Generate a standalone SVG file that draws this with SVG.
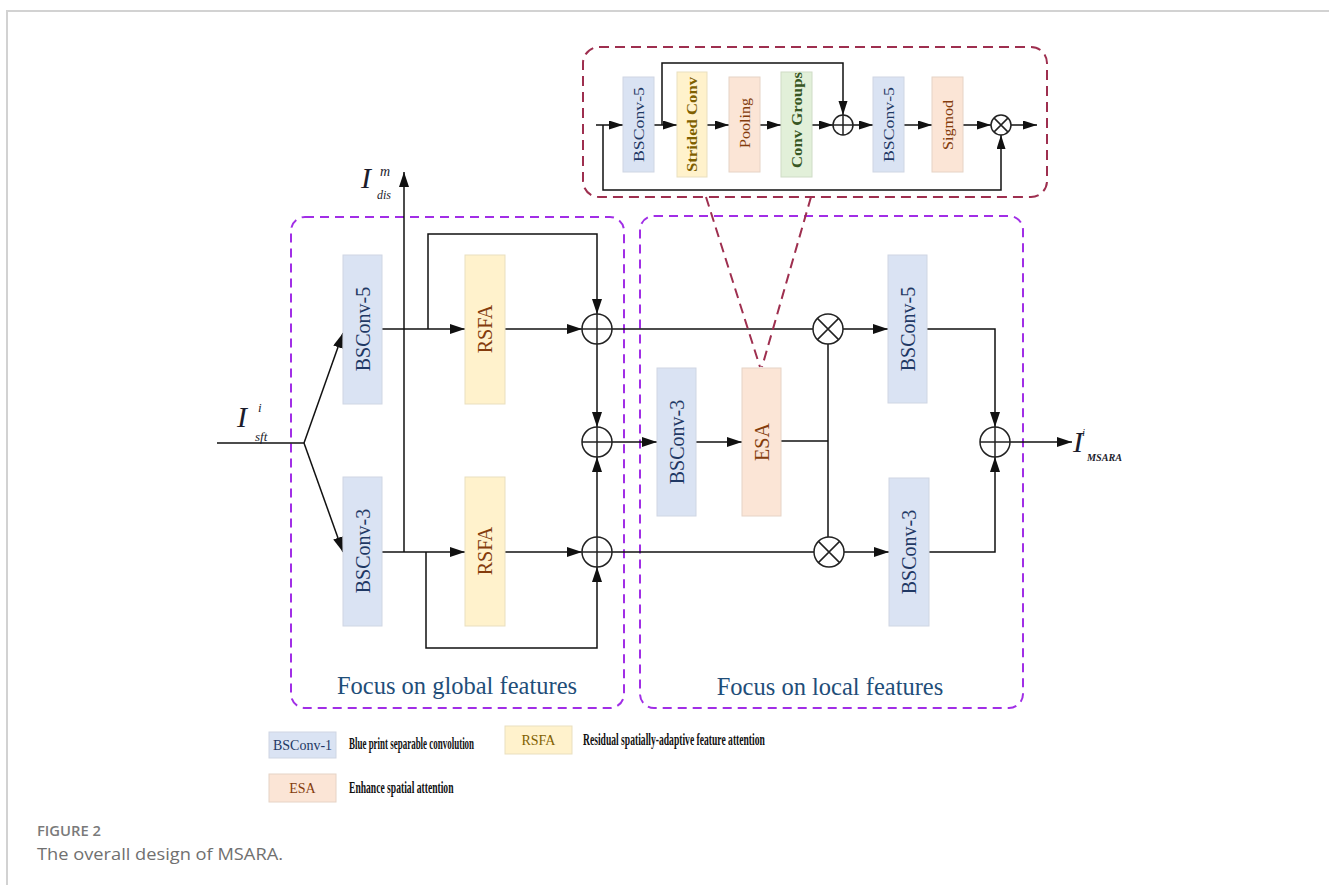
<svg xmlns="http://www.w3.org/2000/svg" width="1329" height="885" viewBox="0 0 1329 885">
<defs>
<marker id="arr" markerUnits="userSpaceOnUse" markerWidth="15" markerHeight="11" refX="15" refY="5" orient="auto">
<path d="M0,0 L15,5 L0,10 z" fill="#111"/>
</marker>
<marker id="arrs" markerUnits="userSpaceOnUse" markerWidth="14" markerHeight="10" refX="14" refY="4.5" orient="auto">
<path d="M0,0 L14,4.5 L0,9 z" fill="#111"/>
</marker>
</defs>
<style>
.ln{fill:none;stroke:#111;stroke-width:1.5}
.a{marker-end:url(#arr)}
.as{marker-end:url(#arrs)}
.blue{fill:#dae3f3;stroke:#cfd6e3;stroke-width:1}
.yel{fill:#fff2cc;stroke:#e9dfbf;stroke-width:1}
.pch{fill:#fbe5d6;stroke:#e6d3c6;stroke-width:1}
.grn{fill:#e2f0d9;stroke:#cfdcc6;stroke-width:1}
.t{font-family:"Liberation Serif","Times New Roman",serif;font-size:20px;text-anchor:middle}
.ts{font-family:"Liberation Serif","Times New Roman",serif;font-size:15px;text-anchor:middle}
.nv{fill:#1f3864}
.br{fill:#843c0c}
.gd{fill:#7f6000}
.gr{fill:#375623}
.circ{fill:#fff;stroke:#222;stroke-width:1.5}
.cx{stroke:#222;stroke-width:1.5}
.pur{fill:none;stroke:#a12ee6;stroke-width:2;stroke-dasharray:9 6}
.mar{fill:none;stroke:#9e2f4f;stroke-width:2;stroke-dasharray:10 6}
.lab{font-family:"Liberation Serif","Times New Roman",serif;font-style:italic;fill:#1c1c2c}
.foc{font-family:"Liberation Serif","Times New Roman",serif;font-size:24.5px;fill:#1f4e79;text-anchor:middle}
.leg{font-family:"Liberation Serif","Times New Roman",serif;font-size:16px;font-weight:bold;fill:#111}
.legt{font-family:"Liberation Serif","Times New Roman",serif;font-size:14px;text-anchor:middle}
</style>
<rect width="1329" height="885" fill="#fff"/>
<path d="M7,885 V11 H1329" fill="none" stroke="#d2d2d2" stroke-width="2"/>

<!-- group frames -->
<g id="global-group">
<rect class="pur" x="291" y="217" width="333" height="491" rx="14"/>
<text class="foc" x="457" y="694">Focus on global features</text>
</g>
<g id="local-group">
<rect class="pur" x="640" y="216" width="383" height="492" rx="14"/>
<text class="foc" x="830" y="695">Focus on local features</text>
</g>
<g id="esa-detail">
<rect class="mar" x="583" y="47" width="464" height="150" rx="16"/>
</g>

<!-- connectors -->
<g id="connectors">
<!-- inset -->
<path class="ln as" d="M596,125 H623"/>
<path class="ln as" d="M654,125 H677"/>
<path class="ln as" d="M662,125 V63 H843 V115"/>
<path class="ln as" d="M707,125 H729"/>
<path class="ln as" d="M760,125 H781"/>
<path class="ln as" d="M812,125 H833"/>
<path class="ln as" d="M853,125 H873"/>
<path class="ln as" d="M904,125 H932"/>
<path class="ln as" d="M963,125 H991"/>
<path class="ln as" d="M1011,125 H1037"/>
<path class="ln as" d="M603,125 V190 H1001 V135"/>
<!-- main -->
<path class="ln" d="M217,443 H304"/>
<path class="ln a" d="M304,443 L343,333"/>
<path class="ln a" d="M304,443 L343,552"/>
<path class="ln a" d="M404,552 V172"/>
<path class="ln a" d="M382,329 H465"/>
<path class="ln a" d="M428,329 V234 H597 V314"/>
<path class="ln a" d="M505,329 H582"/>
<path class="ln" d="M612,329 H813"/>
<path class="ln a" d="M597,344 V427"/>
<path class="ln a" d="M612,442 H657"/>
<path class="ln a" d="M382,552 H465"/>
<path class="ln a" d="M426,552 V648 H597 V567"/>
<path class="ln a" d="M505,552 H582"/>
<path class="ln a" d="M597,537 V457"/>
<path class="ln" d="M612,552 H814"/>
<path class="ln a" d="M696,442 H742"/>
<path class="ln" d="M781,441 H828"/>
<path class="ln" d="M828,344 V537"/>
<path class="ln a" d="M843,329 H888"/>
<path class="ln a" d="M844,552 H889"/>
<path class="ln a" d="M927,329 H995 V427"/>
<path class="ln a" d="M929,552 H995 V457"/>
<path class="ln a" d="M1010,442 H1072"/>
<path class="mar" d="M706,197 L760,367"/>
<path class="mar" d="M811,197 L762,367"/>
</g>

<!-- inset nodes -->
<g id="esa-bsconv5-a">
<rect class="blue" x="623" y="77" width="31" height="95"/>
<text class="ts nv" transform="translate(639,124.5) rotate(-90)" dy="5" textLength="75" lengthAdjust="spacingAndGlyphs">BSConv-5</text>
</g>
<g id="esa-strided">
<rect class="yel" x="677" y="72" width="30" height="105"/>
<text class="ts gd" font-weight="bold" transform="translate(692,124.5) rotate(-90)" dy="5" textLength="95" lengthAdjust="spacingAndGlyphs">Strided Conv</text>
</g>
<g id="esa-pooling">
<rect class="pch" x="729" y="77" width="31" height="95"/>
<text class="ts br" transform="translate(745,123) rotate(-90)" dy="5" textLength="50" lengthAdjust="spacingAndGlyphs">Pooling</text>
</g>
<g id="esa-convgroups">
<rect class="grn" x="781" y="72" width="31" height="105"/>
<text class="ts gr" font-weight="bold" transform="translate(797,120) rotate(-90)" dy="5" textLength="96" lengthAdjust="spacingAndGlyphs">Conv Groups</text>
</g>
<g id="esa-add">
<circle class="circ" cx="843" cy="125" r="10"/>
<path class="cx" d="M833,125 H853 M843,115 V135"/>
</g>
<g id="esa-bsconv5-b">
<rect class="blue" x="873" y="77" width="31" height="95"/>
<text class="ts nv" transform="translate(889,124.5) rotate(-90)" dy="5" textLength="75" lengthAdjust="spacingAndGlyphs">BSConv-5</text>
</g>
<g id="esa-sigmod">
<rect class="pch" x="932" y="77" width="31" height="95"/>
<text class="ts br" transform="translate(948,125) rotate(-90)" dy="5" textLength="50" lengthAdjust="spacingAndGlyphs">Sigmod</text>
</g>
<g id="esa-mul">
<circle class="circ" cx="1001" cy="125" r="10"/>
<path class="cx" d="M993.9,117.9 L1008.1,132.1 M1008.1,117.9 L993.9,132.1"/>
</g>

<!-- main nodes -->
<g id="bsconv5-g">
<rect class="blue" x="343" y="255" width="39" height="149"/>
<text class="t nv" transform="translate(362.5,329) rotate(-90)" dy="7">BSConv-5</text>
</g>
<g id="bsconv3-g">
<rect class="blue" x="343" y="477" width="39" height="149"/>
<text class="t nv" transform="translate(362.5,551) rotate(-90)" dy="7">BSConv-3</text>
</g>
<g id="rsfa-1">
<rect class="yel" x="465" y="255" width="40" height="149"/>
<text class="t br" transform="translate(485,329) rotate(-90)" dy="7">RSFA</text>
</g>
<g id="rsfa-2">
<rect class="yel" x="465" y="477" width="40" height="149"/>
<text class="t br" transform="translate(485,551) rotate(-90)" dy="7">RSFA</text>
</g>
<g id="add-1">
<circle class="circ" cx="597" cy="329" r="15"/>
<path class="cx" d="M582,329 H612 M597,314 V344"/>
</g>
<g id="add-2">
<circle class="circ" cx="597" cy="442" r="15"/>
<path class="cx" d="M582,442 H612 M597,427 V457"/>
</g>
<g id="add-3">
<circle class="circ" cx="597" cy="552" r="15"/>
<path class="cx" d="M582,552 H612 M597,537 V567"/>
</g>
<g id="bsconv3-mid">
<rect class="blue" x="657" y="368" width="39" height="148"/>
<text class="t nv" transform="translate(676.5,442) rotate(-90)" dy="7">BSConv-3</text>
</g>
<g id="esa">
<rect class="pch" x="742" y="368" width="39" height="148"/>
<text class="t br" transform="translate(761.5,442) rotate(-90)" dy="7">ESA</text>
</g>
<g id="mul-1">
<circle class="circ" cx="828" cy="329" r="15"/>
<path class="cx" d="M817.4,318.4 L838.6,339.6 M838.6,318.4 L817.4,339.6"/>
</g>
<g id="mul-2">
<circle class="circ" cx="829" cy="552" r="15"/>
<path class="cx" d="M818.4,541.4 L839.6,562.6 M839.6,541.4 L818.4,562.6"/>
</g>
<g id="bsconv5-l">
<rect class="blue" x="888" y="255" width="39" height="148"/>
<text class="t nv" transform="translate(907.5,329) rotate(-90)" dy="7">BSConv-5</text>
</g>
<g id="bsconv3-l">
<rect class="blue" x="889" y="478" width="40" height="148"/>
<text class="t nv" transform="translate(909,552) rotate(-90)" dy="7">BSConv-3</text>
</g>
<g id="add-4">
<circle class="circ" cx="995" cy="442" r="15"/>
<path class="cx" d="M980,442 H1010 M995,427 V457"/>
</g>

<!-- labels -->
<g id="label-input">
<text class="lab" x="237" y="427" font-size="30">I</text>
<text class="lab" x="258" y="412" font-size="13">i</text>
<text class="lab" x="255" y="441" font-size="13">sft</text>
</g>
<g id="label-dis">
<text class="lab" x="361" y="188" font-size="30">I</text>
<text class="lab" x="380" y="176" font-size="14">m</text>
<text class="lab" x="377" y="199" font-size="12">dis</text>
</g>
<g id="label-output">
<text class="lab" x="1073" y="452" font-size="30">I</text>
<text class="lab" x="1082" y="436" font-size="11">i</text>
<text class="lab" x="1087" y="461" font-size="10" font-weight="bold" textLength="35" lengthAdjust="spacingAndGlyphs">MSARA</text>
</g>

<!-- legend -->
<g id="legend-bsconv">
<rect class="blue" x="269" y="732" width="67" height="26"/>
<text class="legt nv" x="302.5" y="750">BSConv-1</text>
<text class="leg" transform="translate(349,749) scale(0.56,1)">Blue print separable convolution</text>
</g>
<g id="legend-rsfa">
<rect class="yel" x="505" y="726" width="67" height="28"/>
<text class="legt gd" x="538.5" y="745">RSFA</text>
<text class="leg" transform="translate(583,745) scale(0.6,1)">Residual spatially-adaptive feature attention</text>
</g>
<g id="legend-esa">
<rect class="pch" x="269" y="774" width="67" height="28"/>
<text class="legt br" x="302.5" y="793">ESA</text>
<text class="leg" transform="translate(349,793) scale(0.6,1)">Enhance spatial attention</text>
</g>

<!-- caption -->
<g id="caption">
<text x="37" y="836" font-family="'Open Sans','Liberation Sans',sans-serif" font-size="14" font-weight="600" fill="#7a7a7a" textLength="64" lengthAdjust="spacingAndGlyphs">FIGURE 2</text>
<text x="37" y="860" font-family="'Open Sans','Liberation Sans',sans-serif" font-size="17" fill="#707070" textLength="246" lengthAdjust="spacingAndGlyphs">The overall design of MSARA.</text>
</g>
</svg>
